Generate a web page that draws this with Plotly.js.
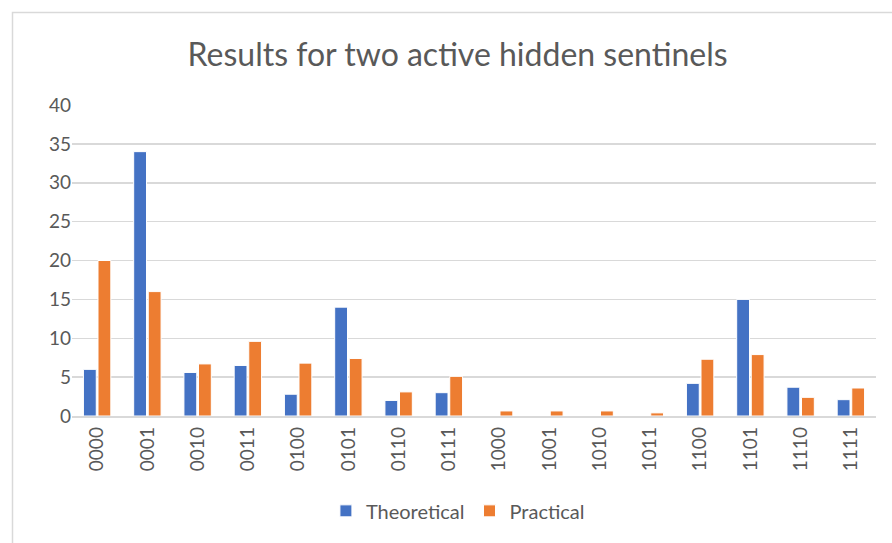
<!DOCTYPE html>
<html><head><meta charset="utf-8">
<script src="https://cdn.plot.ly/plotly-3.0.1.min.js"></script>
<style>html,body{margin:0;padding:0;background:#fff}#chart{width:892px;height:543px}</style>
</head><body><div id="chart"></div>
<script>
const categories = ["0000","0001","0010","0011","0100","0101","0110","0111","1000","1001","1010","1011","1100","1101","1110","1111"];
const theoretical = [6.0, 34.0, 5.6, 6.5, 2.8, 14.0, 2.0, 3.0, 0, 0, 0, 0, 4.2, 15.0, 3.7, 2.1];
const practical = [20.0, 16.0, 6.7, 9.6, 6.8, 7.4, 3.1, 5.1, 0.65, 0.65, 0.65, 0.4, 7.3, 7.9, 2.4, 3.6];
const yTicks = [0,5,10,15,20,25,30,35,40];

const font = "Lato, Carlito, 'Open Sans', sans-serif";
const data = [
  {type:'bar', name:'Theoretical', x:categories, y:theoretical,
   marker:{color:'#4472C4', line:{color:'#ffffff', width:1}}},
  {type:'bar', name:'Practical', x:categories, y:practical,
   marker:{color:'#ED7D31', line:{color:'#ffffff', width:1}}}
];
const layout = {
  width:892, height:543,
  margin:{l:72, r:16, t:105, b:127},
  paper_bgcolor:'#ffffff', plot_bgcolor:'#ffffff',
  font:{family:font, color:'#595959', size:19},
  title:{text:'Results for two active hidden sentinels', font:{family:font, size:32, color:'#595959'},
         x:0.513, xanchor:'center', y:0.899, yanchor:'middle'},
  barmode:'group', bargap:0.42, bargroupgap:0.12,
  xaxis:{type:'category', tickangle:-90, showgrid:false, showline:true, linecolor:'#d9d9d9', linewidth:1.5,
         ticks:'', ticklabelstandoff:2, tickfont:{size:19, color:'#595959'}, fixedrange:true},
  yaxis:{range:[0,40], tickvals:yTicks, showgrid:true, gridcolor:'#d9d9d9', gridwidth:1.5,
         zeroline:false, showline:false, ticks:'', tickfont:{size:19, color:'#595959'}, fixedrange:true},
  showlegend:true,
  legend:{orientation:'h', x:0.48, xanchor:'center', y:-0.305, yanchor:'middle',
          font:{size:20, color:'#595959'}, itemwidth:30, traceorder:'normal'},
  shapes:[{type:'rect', xref:'paper', yref:'paper', x0:(12.5-72)/804, x1:(900-72)/804,
           y0:(416-560)/311, y1:(416-12.5)/311, line:{color:'#d9d9d9', width:1.5}, fillcolor:'rgba(0,0,0,0)', layer:'below'}]
};
Plotly.newPlot('chart', data, layout, {displayModeBar:false, staticPlot:true});
</script></body></html>
